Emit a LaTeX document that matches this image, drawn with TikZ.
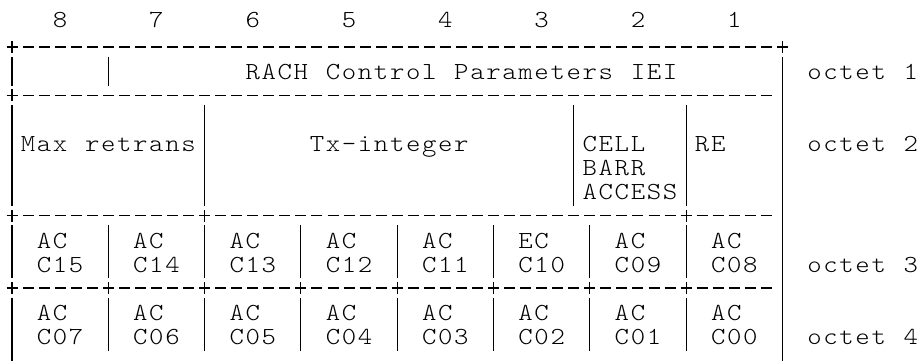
\documentclass[tikz,border=0pt]{standalone}
\usepackage{graphicx}
\usepackage{fontspec}
\newfontfamily\lmlight{lmmonolt10-regular.otf}
\tikzset{
  bar/.style={line width=1.1pt, black},
  txt/.style={inner sep=0pt, outer sep=0pt, text=black, font=\lmlight\fontsize{24.5}{24.5}\selectfont}
}
\def\gridend{GRIDEND}
\newcommand\gridstr[1]{\edef\gridtmp{#1}\expandafter\gridstrA\gridtmp\gridend}
\def\gridstrA#1{\ifx\gridend#1\else\makebox[16.05pt]{\scalebox{1.12}[1]{#1}}\expandafter\gridstrA\fi}
% helpers: col, row
\newcommand\gplus[2]{\draw[bar] ([xshift=-5.5pt]#1,#2) -- ([xshift=5.5pt]#1,#2); \draw[bar] ([yshift=-6pt]#1,#2) -- ([yshift=6pt]#1,#2);}
% row, from col, to col
\newcommand\gdash[3]{\draw[bar,dash pattern=on 11pt off 5.05pt] ([xshift=-5.5pt]#2,#1) -- ([xshift=5.5pt]#3,#1);}
% col, from row, to row
\newcommand\gbar[3]{\draw[bar] ([yshift=14.5pt]#1,#2) -- ([yshift=-14.5pt]#1,#3);}
% name, col, row, text
\newcommand\gtext[4]{\node[txt,anchor=base west] (#1) at ([xshift=-8.025pt,yshift=-8.3pt]#2,#3) {\gridstr{#4}};}
\begin{document}
\begin{tikzpicture}[x=16.05pt,y=-24.1pt]
\fill[white] (0pt,0pt) rectangle (920pt,-360pt);
\useasboundingbox (0pt,0pt) rectangle (920pt,-360pt);
\begin{scope}[shift={(12pt,-22.9pt)}]
% bit numbers
\foreach \b [count=\k from 0] in {8,7,6,5,4,3,2,1}
  \node[txt,anchor=base west] (bit\b) at ([xshift=-8.025pt,yshift=-4.5pt]{3+6*\k},0) {\gridstr{\b}};
% horizontal borders
\gplus{0}{1}\gdash{1}{1}{47}\gplus{48}{1}
\gplus{0}{3}\gdash{3}{1}{47}
\gplus{0}{8}\gdash{8}{1}{11}\gplus{12}{8}\gdash{8}{13}{41}\gplus{42}{8}\gdash{8}{43}{47}
\foreach \c in {0,6,...,42} {\gplus{\c}{11}\gdash{11}{\c+1}{\c+5}}
% vertical bars
\gbar{0}{2}{2}\gbar{0}{4}{7}\gbar{0}{9}{10}\gbar{0}{12}{14}
\gbar{6}{2}{2}
\gbar{12}{4}{7}
\gbar{35}{4}{7}
\gbar{42}{4}{7}
\foreach \c in {6,12,...,42} {\gbar{\c}{9}{10}\gbar{\c}{12}{13}}
\gbar{48}{2}{14}
% texts
\gtext{iei}{15}{2}{RACH\ Control\ Parameters\ IEI}
\gtext{oct1}{50}{2}{octet\ 1}
\gtext{maxr}{1}{5}{Max\ retrans}
\gtext{txint}{19}{5}{Tx-integer}
\gtext{cell}{36}{5}{CELL}
\gtext{barr}{36}{6}{BARR}
\gtext{access}{36}{7}{ACCESS}
\gtext{re}{43}{5}{RE}
\gtext{oct2}{50}{5}{octet\ 2}
\foreach \t [count=\k from 0] in {AC,AC,AC,AC,AC,EC,AC,AC}
  \gtext{ua\k}{6*\k+2}{9}{\t};
\foreach \t [count=\k from 0] in {C15,C14,C13,C12,C11,C10,C09,C08}
  \gtext{ub\k}{6*\k+2}{10}{\t};
\gtext{oct3}{50}{10}{octet\ 3}
\foreach \t [count=\k from 0] in {AC,AC,AC,AC,AC,AC,AC,AC}
  \gtext{la\k}{6*\k+2}{12}{\t};
\foreach \t [count=\k from 0] in {C07,C06,C05,C04,C03,C02,C01,C00}
  \gtext{lb\k}{6*\k+2}{13}{\t};
\gtext{oct4}{50}{13}{octet\ 4}
\end{scope}
\end{tikzpicture}
\end{document}
